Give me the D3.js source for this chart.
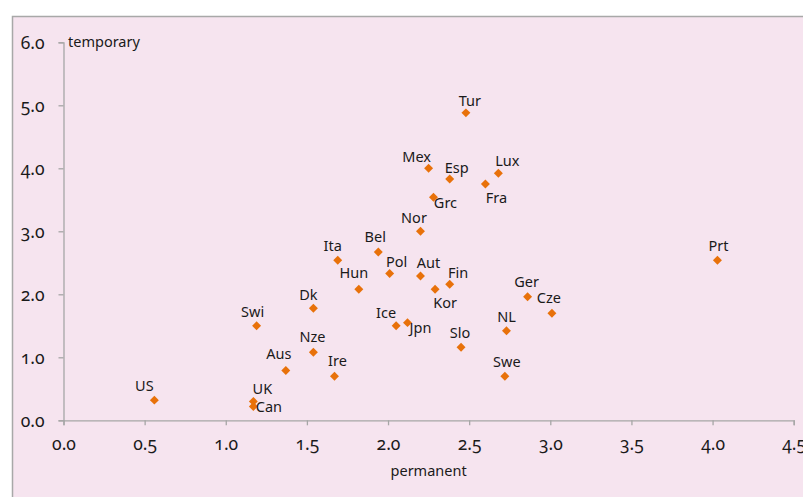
<!DOCTYPE html>
<html>
<head>
<meta charset="utf-8">
<script src="https://cdn.jsdelivr.net/npm/d3@7"></script>
<style>
  html, body { margin: 0; padding: 0; background: #ffffff; }
  svg { display: block; }
  .num { font-family: "Noto Sans", sans-serif; font-feature-settings: "onum" 1; font-variant-numeric: oldstyle-nums; }
  text { font-family: "Noto Sans", sans-serif; fill: #1a1a1a; }
</style>
</head>
<body>
<script>
// ---- data ----
const countries = ["US","UK","Can","Swi","Aus","Nze","Ire","Dk","Ita","Bel","Hun","Pol","Nor","Aut","Ice","Jpn","Kor","Fin","Slo","Mex","Grc","Esp","Tur","Fra","Lux","NL","Swe","Ger","Cze","Prt"];
const permanent = [0.56,1.17,1.17,1.19,1.37,1.54,1.67,1.54,1.69,1.94,1.82,2.01,2.20,2.20,2.05,2.12,2.29,2.38,2.45,2.25,2.28,2.38,2.48,2.60,2.68,2.73,2.72,2.86,3.01,4.03];
const temporary = [0.32,0.30,0.22,1.50,0.79,1.08,0.70,1.78,2.54,2.67,2.08,2.33,3.00,2.29,1.50,1.55,2.08,2.16,1.16,4.00,3.54,3.83,4.88,3.75,3.92,1.42,0.70,1.96,1.70,2.54];
// label offsets relative to marker (layout only)
const labelDx = [-10,9,15.5,-4,-7,-1,3,-5,-5,-3,-5,7,-6.5,8,-10,13,10,8.5,-1,-12,12,7,4,11,9,0,2,-1,-3,1];
const labelDy = [-9,-7,6,-9,-12,-10,-10,-8,-9,-10,-11,-7,-8,-8,-8,10,19,-6,-9,-6,11,-6,-7,19,-7,-9,-9,-10,-10,-9];
const xTicks = [0,0.5,1,1.5,2,2.5,3,3.5,4,4.5];
const yTicks = [0,1,2,3,4,5,6];
const xTitle = "permanent";
const yTitle = "temporary";

// ---- layout ----
const W = 803, H = 497;
const svg = d3.select("body").append("svg").attr("width", W).attr("height", H);

// frame
svg.append("rect").attr("x", 12.5).attr("y", 16.5).attr("width", W).attr("height", H)
  .attr("fill", "#f6e4ef").attr("stroke", "#a8a8a8").attr("stroke-width", 1.5);

const x = d3.scaleLinear().domain([0, 4.5]).range([63.5, 793.7]);
const y = d3.scaleLinear().domain([0, 6]).range([420.3, 42.3]);

const axisColor = "#a6a6a6";

const xAxis = svg.append("g").attr("transform", `translate(0,${y(0)})`)
  .call(d3.axisBottom(x).tickValues(xTicks).tickFormat(d3.format(".1f")).tickSize(5).tickPadding(8));
const yAxis = svg.append("g").attr("transform", `translate(${x(0)},0)`)
  .call(d3.axisLeft(y).tickValues(yTicks).tickFormat(d3.format(".1f")).tickSize(5).tickPadding(14));

[xAxis, yAxis].forEach(g => {
  g.select(".domain").attr("stroke", axisColor).attr("stroke-width", 1.3);
  g.selectAll(".tick line").attr("stroke", axisColor).attr("stroke-width", 1.3);
  g.selectAll(".tick text").attr("class", "num").attr("font-size", 17.5).attr("fill", "#1a1a1a");
});
xAxis.selectAll(".tick text").attr("dy", "0.95em");
yAxis.selectAll(".tick text").attr("dy", "0.36em");

svg.append("text").attr("x", x(0) + 4.5).attr("y", y(6) + 4.5)
  .attr("font-size", 14.5).text(yTitle);
svg.append("text").attr("x", (x(0) + x(4.5)) / 2).attr("y", 476)
  .attr("text-anchor", "middle").attr("font-size", 14.5).text(xTitle);

// points
const data = countries.map((c, i) => ({c, px: permanent[i], ty: temporary[i], dx: labelDx[i], dy: labelDy[i]}));
const sym = d3.symbol().type(d3.symbolSquare).size(40);
svg.append("g").selectAll("path").data(data).join("path")
  .attr("d", sym)
  .attr("transform", d => `translate(${x(d.px)},${y(d.ty)}) rotate(45)`)
  .attr("fill", "#e8710a");

svg.append("g").selectAll("text").data(data).join("text")
  .attr("x", d => x(d.px) + d.dx)
  .attr("y", d => y(d.ty) + d.dy)
  .attr("text-anchor", "middle")
  .attr("font-size", 14.5)
  .text(d => d.c);
</script>
</body>
</html>
